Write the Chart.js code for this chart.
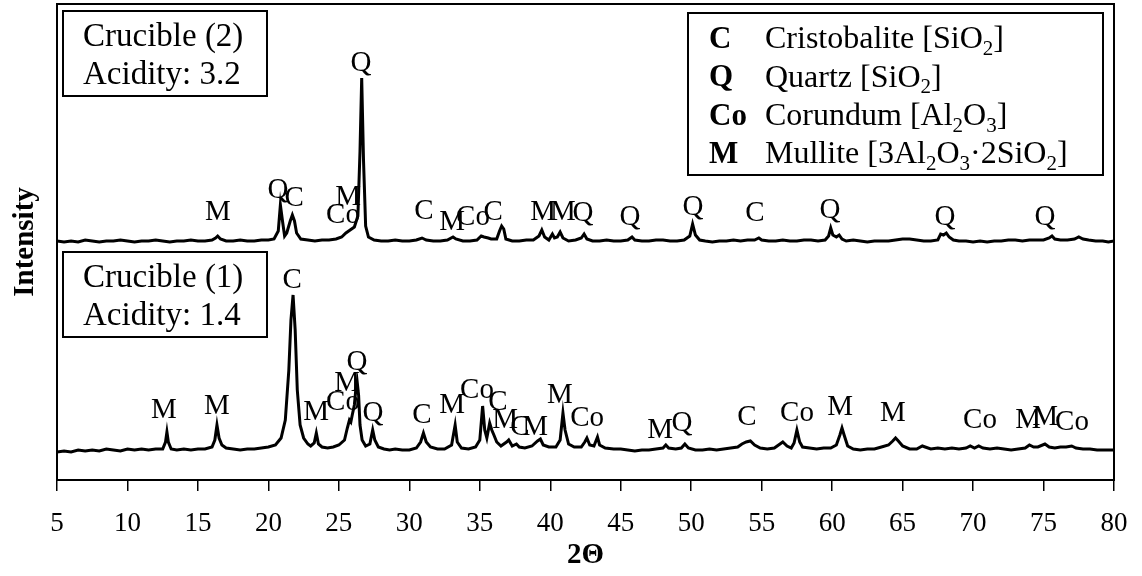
<!DOCTYPE html>
<html>
<head>
<meta charset="utf-8">
<script src="https://cdn.jsdelivr.net/npm/chart.js@4.4.1/dist/chart.umd.min.js"></script>
<style>
  body { margin: 0; background: #fff; }
  #wrap { width: 1142px; height: 576px; }
</style>
</head>
<body>
<div id="wrap"><canvas id="xrd"></canvas></div>
<script>
//----- axis range -----
const xMin = 5, xMax = 80, xStep = 5;
const yMax = 476;
const shift2 = 209;   // crucible (2) pattern is stacked above crucible (1)

//----- Crucible (1), acidity 1.4 : [2theta, counts] -----
const crucible1 = [
  [5.0,28],[5.5,29],[6.0,28],[6.5,30],[7.0,29],[7.5,30],[8.0,29],[8.5,31],[9.0,30],[9.5,29],
  [10.0,31],[10.5,30],[11.0,31],[11.5,30],[12.0,31],[12.5,31],[12.7,38],[12.8,48],[12.9,38],[13.1,31],
  [13.5,30],[14.0,31],[14.5,30],[15.0,31],[15.5,31],[16.0,33],[16.2,40],[16.35,55],[16.5,42],[16.7,35],
  [17.0,32],[17.5,31],[18.0,30],[18.5,31],[19.0,31],[19.5,32],[20.0,33],[20.5,35],[20.9,42],[21.2,60],
  [21.45,110],[21.6,160],[21.75,185],[21.9,150],[22.05,90],[22.25,55],[22.5,42],[22.8,36],[23.0,34],[23.25,37],
  [23.4,47],[23.55,36],[23.8,33],[24.2,32],[24.6,33],[25.0,35],[25.4,40],[25.6,52],[25.75,60],[25.85,58],
  [25.95,65],[26.1,75],[26.2,90],[26.3,98],[26.4,85],[26.5,55],[26.65,40],[26.9,34],[27.2,36],[27.4,50],
  [27.55,40],[27.8,33],[28.2,31],[28.6,30],[29.0,31],[29.5,30],[30.0,30],[30.5,32],[30.8,38],[31.0,47],
  [31.2,38],[31.5,33],[32.0,31],[32.5,31],[33.0,35],[33.25,55],[33.4,38],[33.7,32],[34.2,31],[34.7,33],
  [35.0,40],[35.2,74],[35.35,50],[35.5,42],[35.7,57],[35.85,50],[36.0,45],[36.2,38],[36.5,34],[36.9,38],
  [37.05,40],[37.3,34],[37.6,36],[37.8,33],[38.2,32],[38.7,34],[39.1,39],[39.3,41],[39.5,35],[39.9,33],
  [40.4,33],[40.7,40],[40.9,67],[41.05,50],[41.3,36],[41.7,33],[42.2,33],[42.45,38],[42.6,42],[42.8,35],
  [43.1,34],[43.35,43],[43.5,35],[43.9,32],[44.5,31],[45.0,31],[45.5,30],[46.0,29],[46.5,30],[47.0,30],
  [47.5,31],[48.0,32],[48.2,35],[48.4,32],[48.9,31],[49.3,32],[49.55,36],[49.8,32],[50.3,30],[50.8,30],
  [51.3,31],[51.8,30],[52.3,31],[52.8,32],[53.3,33],[53.6,36],[53.9,38],[54.2,39],[54.5,35],[54.9,32],
  [55.4,31],[55.9,32],[56.2,35],[56.5,38],[56.8,34],[57.1,32],[57.3,37],[57.5,50],[57.7,38],[57.9,33],
  [58.4,32],[58.9,31],[59.4,32],[59.9,32],[60.3,35],[60.55,45],[60.7,52],[60.85,45],[61.1,34],[61.5,31],
  [62.0,30],[62.5,31],[63.0,31],[63.5,33],[64.0,35],[64.3,39],[64.5,42],[64.7,39],[65.0,34],[65.5,31],
  [66.0,31],[66.4,34],[66.6,33],[67.0,31],[67.5,32],[68.0,31],[68.5,32],[69.0,31],[69.5,32],[69.8,34],
  [70.1,32],[70.4,34],[70.7,32],[71.2,31],[71.7,32],[72.2,31],[72.7,30],[73.2,31],[73.7,32],[74.0,35],
  [74.3,33],[74.6,33],[75.1,36],[75.4,33],[75.8,32],[76.2,33],[76.6,33],[77.0,34],[77.3,32],[77.8,31],
  [78.3,31],[78.8,30],[79.3,30],[80.0,30]
];

//----- Crucible (2), acidity 3.2 : [2theta, counts] -----
const crucible2 = [
  [5.0,30],[5.5,29],[6.0,30],[6.5,29],[7.0,31],[7.5,30],[8.0,29],[8.5,30],[9.0,30],[9.5,31],
  [10.0,30],[10.5,29],[11.0,30],[11.5,30],[12.0,31],[12.5,30],[13.0,29],[13.5,30],[14.0,30],[14.5,31],
  [15.0,30],[15.5,30],[16.0,31],[16.25,33],[16.4,35],[16.6,32],[17.0,30],[17.5,30],[18.0,31],[18.5,30],
  [19.0,30],[19.5,31],[20.0,31],[20.4,32],[20.7,40],[20.85,66],[21.0,50],[21.15,35],[21.3,38],[21.55,50],
  [21.7,56],[21.85,50],[22.0,38],[22.3,32],[22.8,31],[23.3,30],[23.8,31],[24.3,31],[24.8,32],[25.2,34],
  [25.5,38],[25.8,41],[26.1,44],[26.35,55],[26.5,120],[26.62,193],[26.75,110],[26.9,45],[27.1,34],[27.5,31],
  [28.0,30],[28.5,30],[29.0,31],[29.5,30],[30.0,30],[30.5,31],[30.9,33],[31.2,31],[31.7,30],[32.2,30],
  [32.7,31],[33.1,34],[33.3,32],[33.8,30],[34.3,30],[34.8,31],[35.1,35],[35.3,34],[35.6,33],[35.8,32],
  [36.2,32],[36.4,40],[36.55,45],[36.7,42],[36.85,32],[37.3,30],[37.8,30],[38.3,31],[38.8,31],[39.2,35],
  [39.4,41],[39.6,34],[39.9,31],[40.15,37],[40.3,33],[40.5,34],[40.7,39],[40.9,33],[41.3,30],[41.8,31],
  [42.2,33],[42.4,37],[42.6,32],[43.0,30],[43.5,30],[44.0,31],[44.5,30],[45.0,30],[45.5,31],[45.8,34],
  [46.0,31],[46.5,30],[47.0,30],[47.5,31],[48.0,31],[48.5,30],[49.0,30],[49.5,31],[49.9,35],[50.1,47],
  [50.3,36],[50.6,31],[51.0,30],[51.5,29],[52.0,30],[52.5,30],[53.0,31],[53.5,30],[54.0,31],[54.5,31],
  [54.8,33],[55.0,31],[55.5,30],[56.0,30],[56.5,31],[57.0,30],[57.5,30],[58.0,31],[58.5,31],[59.0,30],
  [59.5,31],[59.75,35],[59.9,43],[60.05,36],[60.3,34],[60.5,36],[60.7,32],[61.0,30],[61.5,31],[62.0,30],
  [62.5,29],[63.0,30],[63.5,30],[64.0,30],[64.5,31],[65.0,32],[65.5,32],[66.0,31],[66.5,30],[67.0,30],
  [67.5,31],[67.7,37],[67.9,36],[68.1,38],[68.3,34],[68.6,31],[69.0,30],[69.5,30],[70.0,29],[70.5,30],
  [71.0,29],[71.5,30],[72.0,30],[72.5,31],[73.0,31],[73.5,30],[74.0,31],[74.5,31],[75.0,31],[75.4,33],
  [75.6,35],[75.8,32],[76.2,31],[76.7,31],[77.2,32],[77.5,34],[77.8,32],[78.2,31],[78.7,30],[79.2,30],
  [79.6,29],[80.0,30]
];

//----- phase marks : [symbol, 2theta, counts] -----
const peaks1 = [
  ['M',12.59,70],['M',16.35,74],['C',21.68,200],['M',23.38,68],['Co',25.29,78],['M',25.58,97],
  ['Q',26.29,118],['Q',27.42,67],['C',30.9,65],['M',33.03,75],['Co',34.8,90],['C',36.29,78],
  ['M',36.79,60],['C',37.85,53],['M',38.92,53],['M',40.69,85],['Co',42.61,62],['M',47.79,50],
  ['Q',49.35,57],['C',53.96,63],['Co',57.51,67],['M',60.56,73],['M',64.32,67],['Co',70.49,60],
  ['M',73.9,60],['M',75.11,63],['Co',77.02,58]
];
const peaks2 = [
  ['M',16.42,59],['Q',20.68,81],['C',21.82,73],['M',25.65,74],['Co',25.29,56],['Q',26.57,208],
  ['C',31.04,60],['M',33.03,49],['Co',34.52,54],['C',35.94,59],['M',39.49,59],['M',40.9,59],
  ['Q',42.32,58],['Q',45.66,54],['Q',50.13,64],['C',54.53,58],['Q',59.85,61],['Q',68.01,54],
  ['Q',75.11,54]
];

//----- legend and sample boxes ( _x = subscript ) -----
const phaseKeys = ['C', 'Q', 'Co', 'M'];
const phaseNames = ['Cristobalite [SiO_2]', 'Quartz [SiO_2]', 'Corundum [Al_2O_3]', 'Mullite [3Al_2O_3·2SiO_2]'];
const sample1 = ['Crucible (1)', 'Acidity: 1.4'];
const sample2 = ['Crucible (2)', 'Acidity: 3.2'];

const serif = '"Liberation Serif", "Times New Roman", serif';

function richText(ctx, str, x, y, size, bold) {
    let cx = x;
    for (let i = 0; i < str.length; i++) {
        let ch = str[i], sub = false;
        if (ch === '_') { ch = str[++i]; sub = true; }
        const fs = sub ? Math.round(size * 0.66) : size;
        ctx.font = (bold ? 'bold ' : '') + fs + 'px ' + serif;
        ctx.fillText(ch, cx, sub ? y + size * 0.3 : y);
        cx += ctx.measureText(ch).width;
    }
}

const decorations = {
    id: 'decorations',
    afterDatasetsDraw(chart) {
        const {ctx, chartArea: a, scales: {x, y}} = chart;
        ctx.save();
        ctx.strokeStyle = '#000';
        ctx.fillStyle = '#000';
        ctx.lineWidth = 2;
        ctx.strokeRect(a.left, a.top, a.right - a.left, a.bottom - a.top);

        // phase letters over the peaks
        ctx.font = '29px ' + serif;
        ctx.textAlign = 'center';
        ctx.textBaseline = 'middle';
        peaks1.forEach(([t, p, v]) => ctx.fillText(t, x.getPixelForValue(p), y.getPixelForValue(v)));
        peaks2.forEach(([t, p, v]) => ctx.fillText(t, x.getPixelForValue(p), y.getPixelForValue(v + shift2)));

        // sample boxes
        ctx.textAlign = 'left';
        const boxes = [[sample2, a.top + 7], [sample1, a.top + 248]];
        boxes.forEach(([lines, top]) => {
            ctx.lineWidth = 2;
            ctx.strokeRect(a.left + 6, top, 204, 85);
            lines.forEach((s, i) => richText(ctx, s, a.left + 26, top + 26 + i * 38, 33, false));
        });

        // phase legend
        ctx.strokeRect(688, a.top + 9, 415, 162);
        phaseKeys.forEach((k, i) => {
            const ty = a.top + 36 + i * 38.3;
            richText(ctx, k, 709, ty, 31, true);
            richText(ctx, phaseNames[i], 765, ty, 32, false);
        });
        ctx.restore();
    }
};

const toPoints = (arr, shift) => arr.map(([t, c]) => ({x: t, y: c + shift}));

new Chart(document.getElementById('xrd'), {
    type: 'line',
    data: {
        datasets: [
            { label: sample2[0], data: toPoints(crucible2, shift2), borderColor: '#000', borderWidth: 3, pointRadius: 0, tension: 0 },
            { label: sample1[0], data: toPoints(crucible1, 0), borderColor: '#000', borderWidth: 3, pointRadius: 0, tension: 0 }
        ]
    },
    options: {
        responsive: true,
        maintainAspectRatio: false,
        animation: false,
        layout: { padding: { top: 4, right: 28, left: 0, bottom: 0 } },
        plugins: { legend: { display: false }, tooltip: { enabled: false } },
        scales: {
            x: {
                type: 'linear', min: xMin, max: xMax,
                ticks: { stepSize: xStep, color: '#000', font: { family: serif, size: 27 }, padding: 17, maxRotation: 0 },
                grid: { drawOnChartArea: false, drawTicks: true, tickLength: 11, color: '#000', lineWidth: 1.5 },
                border: { color: '#000', width: 2 },
                title: { display: true, text: '2Θ', color: '#000', font: { family: serif, size: 29, weight: 'bold' }, padding: { top: 0, bottom: 3 } },
                afterFit: s => { s.height = 96; s.paddingLeft = 0; s.paddingRight = 0; }
            },
            y: {
                min: 0, max: yMax,
                ticks: { display: false },
                grid: { display: false },
                border: { display: false },
                title: { display: true, text: 'Intensity', color: '#000', font: { family: serif, size: 29, weight: 'bold' }, padding: { top: 8, bottom: 0 } },
                afterFit: s => { s.width = 57; }
            }
        }
    },
    plugins: [decorations]
});
</script>
</body>
</html>
